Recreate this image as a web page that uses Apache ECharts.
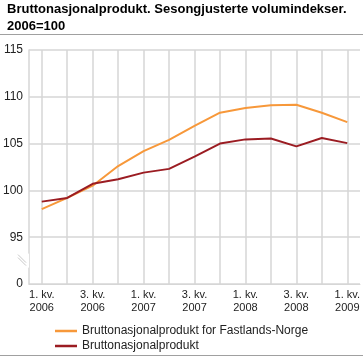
<!DOCTYPE html>
<html><head><meta charset="utf-8">
<script src="https://cdn.jsdelivr.net/npm/echarts@6/dist/echarts.min.js"></script>
<style>html,body{margin:0;padding:0;background:#fff}#wrap{position:relative;width:363px;height:358px}#c{width:363px;height:358px}
.rule{position:absolute;left:0;width:363px;height:1px;background:#a0a0a0;pointer-events:none}</style>
</head><body><div id="wrap"><div id="c"></div><div class="rule" style="top:34px"></div><div class="rule" style="top:355px"></div></div>
<script>
const categories = ['1. kv.\n2006','2. kv.\n2006','3. kv.\n2006','4. kv.\n2006','1. kv.\n2007','2. kv.\n2007','3. kv.\n2007','4. kv.\n2007','1. kv.\n2008','2. kv.\n2008','3. kv.\n2008','4. kv.\n2008','1. kv.\n2009'];
const fastlandsNorge = [98.0, 99.2, 100.5, 102.6, 104.2, 105.4, 106.9, 108.3, 108.8, 109.1, 109.15, 108.3, 107.3];
const bnp = [98.8, 99.2, 100.7, 101.2, 101.9, 102.3, 103.6, 105.0, 105.45, 105.55, 104.7, 105.6, 105.05];
const yTicks = [0, 95, 100, 105, 110, 115];

const chart = echarts.init(document.getElementById('c'), null, {renderer: 'canvas'});
const gridColor = '#d6d6d6';
const ff = 'Liberation Sans, Arial, sans-serif';
chart.setOption({
  animation: false,
  textStyle: {fontFamily: ff},
  title: {
    text: 'Bruttonasjonalprodukt. Sesongjusterte volumindekser.\n2006=100',
    left: 2, top: -4,
    textStyle: {fontSize: 13, fontWeight: 'bold', color: '#000', lineHeight: 17, fontFamily: ff}
  },
  grid: {left: 27, right: 3, top: 50, bottom: 74, containLabel: false},
  xAxis: {
    type: 'category', data: categories, boundaryGap: true,
    axisLine: {show: true, lineStyle: {color: gridColor, width: 1}},
    axisTick: {show: false},
    axisLabel: {
      interval: 1, margin: 4, color: '#222', fontSize: 11, lineHeight: 13, fontFamily: ff
    },
    splitLine: {show: true, alignWithLabel: true, interval: 0, lineStyle: {color: gridColor, width: 1.5}}
  },
  yAxis: {
    type: 'value', min: 90, max: 115, interval: 5,
    axisLine: {show: true, lineStyle: {color: gridColor, width: 1.5}},
    axisTick: {show: false},
    axisLabel: {
      margin: 6, color: '#222', fontSize: 12, fontFamily: ff,
      formatter: v => v === 90 ? String(yTicks[0]) : String(v)
    },
    splitLine: {show: true, lineStyle: {color: gridColor, width: 1.5}}
  },
  legend: {
    orient: 'vertical', left: 50, top: 320, itemGap: 3, itemWidth: 22, itemHeight: 2.5,
    icon: 'rect',
    textStyle: {fontSize: 12, color: '#222', fontFamily: ff, lineHeight: 12},
    data: ['Bruttonasjonalprodukt for Fastlands-Norge', 'Bruttonasjonalprodukt']
  },
  series: [
    {name: 'Bruttonasjonalprodukt for Fastlands-Norge', type: 'line', data: fastlandsNorge, symbol: 'none',
     lineStyle: {color: '#f7983a', width: 2}, itemStyle: {color: '#f7983a'}},
    {name: 'Bruttonasjonalprodukt', type: 'line', data: bnp, symbol: 'none',
     lineStyle: {color: '#9b1c22', width: 2}, itemStyle: {color: '#9b1c22'}}
  ]
});

const yb = chart.convertToPixel({yAxisIndex: 0}, 92.5);
const ax = 27;
chart.setOption({
  graphic: {
    elements: [
      {id: 'gap', type: 'rect', shape: {x: ax - 2, y: yb - 7, width: 4, height: 14}, style: {fill: '#fff'}, z: 100, silent: true},
      {id: 's1', type: 'line', shape: {x1: ax - 9, y1: yb - 6, x2: ax - 1, y2: yb + 2}, style: {stroke: '#c8c8c8', lineWidth: 1}, z: 101, silent: true},
      {id: 's2', type: 'line', shape: {x1: ax - 9, y1: yb - 3, x2: ax - 1, y2: yb + 5}, style: {stroke: '#c8c8c8', lineWidth: 1}, z: 101, silent: true}
    ]
  }
});
</script></body></html>
